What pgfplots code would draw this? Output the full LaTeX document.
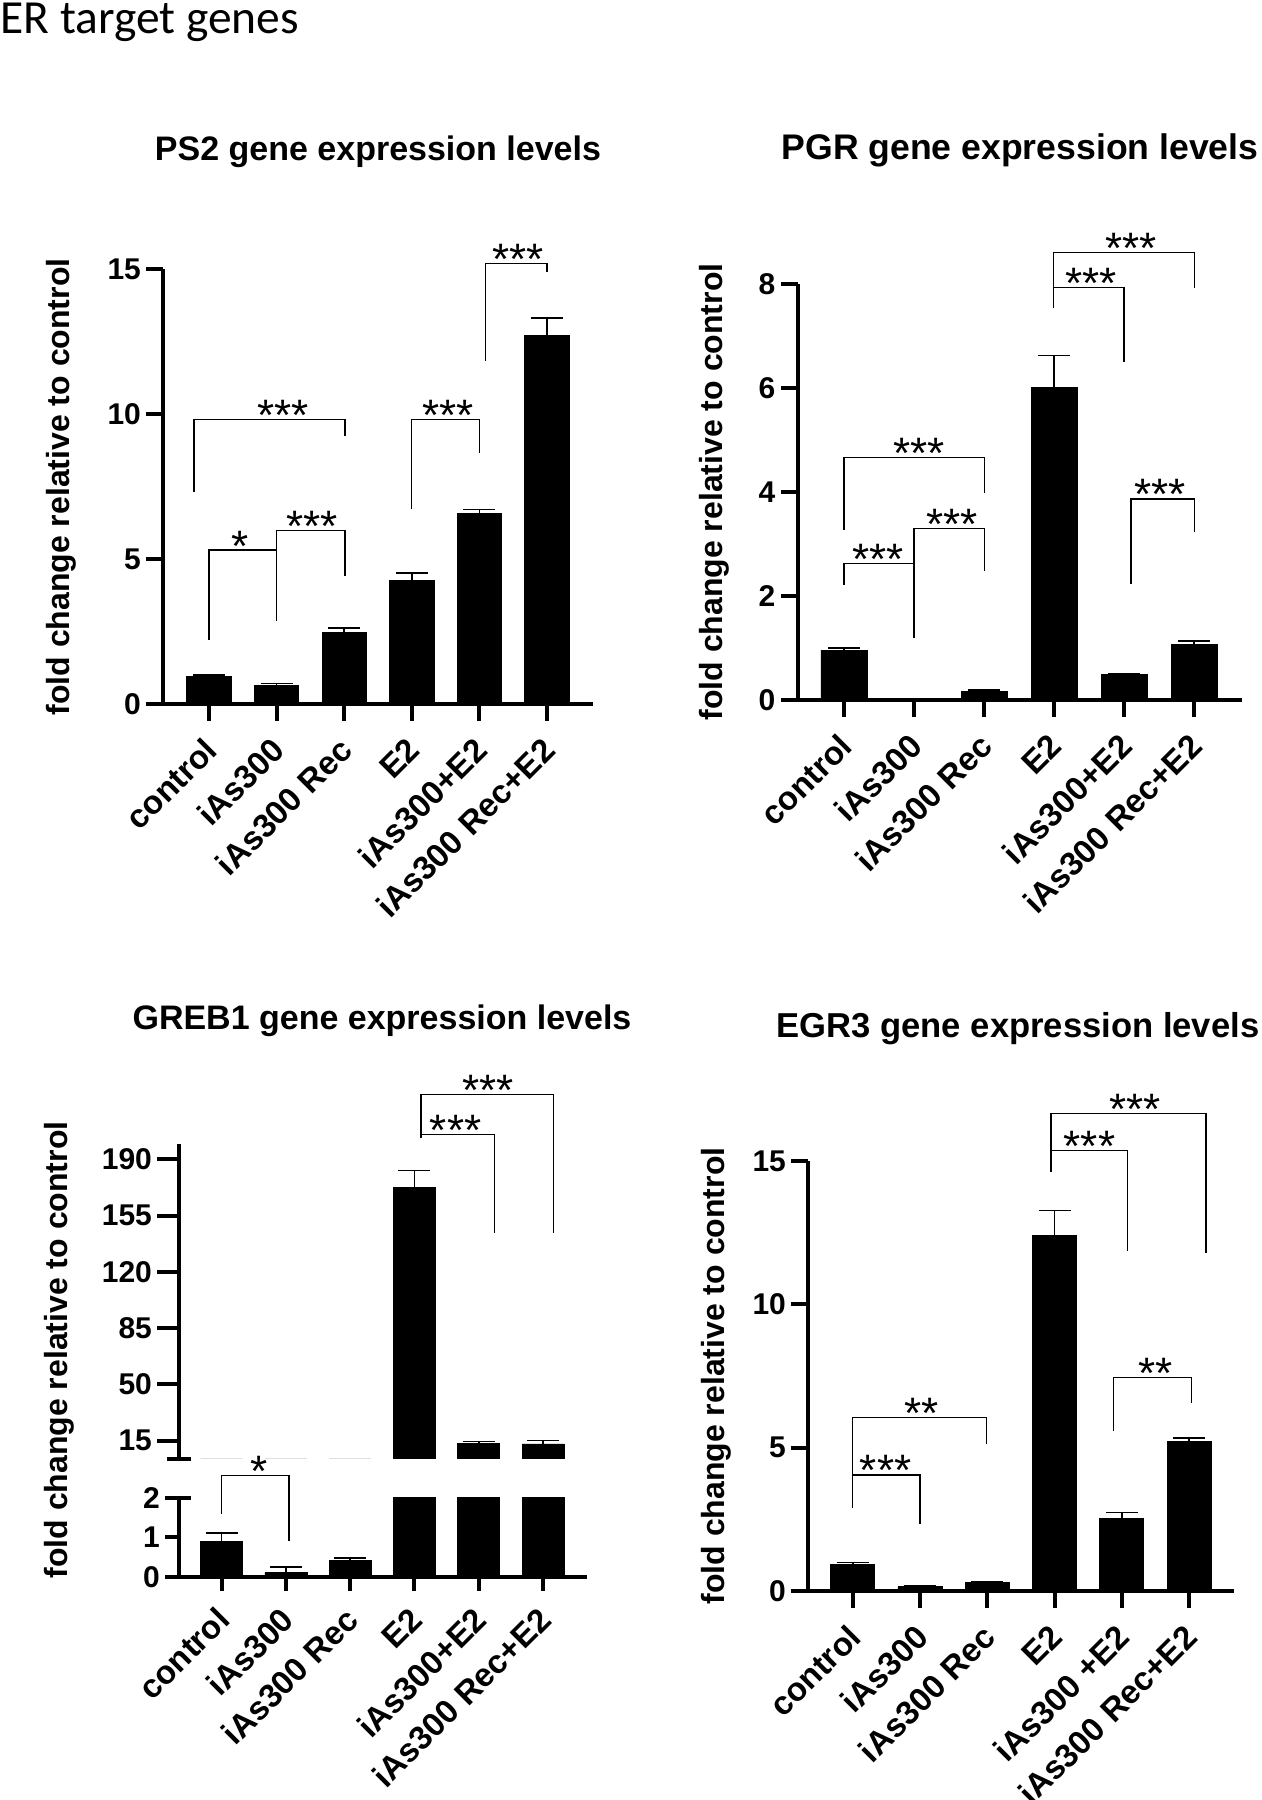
\documentclass[border=0pt]{standalone}
\usepackage{fontspec}
\setmainfont{Liberation Sans}
\newfontfamily\calibri{Carlito}
\usepackage{pgfplots}
\usepackage{pgfplotstable}
\pgfplotsset{compat=1.18}

\pgfplotstableread{
x y e
0 0.94 0.06
1 0.63 0.08
2 2.47 0.14
3 4.25 0.27
4 6.57 0.14
5 12.70 0.60
}\tabPS

\pgfplotstableread{
x y e
0 0.96 0.04
1 0.02 0.01
2 0.17 0.02
3 6.02 0.61
4 0.49 0.02
5 1.07 0.07
}\tabPGR

\pgfplotstableread{
x y e
0 0.90 0.21
1 0.11 0.13
2 0.41 0.06
3 172.6 10.3
4 13.1 1.5
5 12.95 2.05
}\tabGREB

\pgfplotstableread{
x y e
0 0.93 0.06
1 0.15 0.04
2 0.29 0.02
3 12.40 0.88
4 2.53 0.21
5 5.23 0.10
}\tabEGR

\tikzset{
  br/.style={line width=0.65pt,black},
  sig/.style={anchor=base,inner sep=0pt,yshift=-5.5pt,font=\fontsize{22}{22}\selectfont},
}
\pgfplotsset{
  gp/.style={
    scale only axis,
    axis x line*=bottom,
    axis y line*=left,
    axis line style={line width=2pt,-},
    tick style={line width=2pt,black},
    tick align=outside,
    major tick length=8.5pt,
    xtick={0,1,2,3,4,5},
    xticklabel style={xshift=1pt,yshift=-11.5pt,rotate=45,anchor=east,inner sep=0pt,font=\bfseries\fontsize{16.5}{18}\selectfont},
    yticklabel style={inner sep=0pt,xshift=-2.5pt,font=\bfseries\fontsize{15}{15}\selectfont},
    /pgf/number format/assume math mode=true,
    clip=false,
    clip marker paths=true,
  },
  gpbars/.style={ybar, fill=black, draw=black, bar width=#1,
    error bars/y dir=plus, error bars/y explicit,
    error bars/error bar style={line width=0.8pt,black},
    error bars/error mark options={rotate=90,line width=0.8pt,mark size=8pt,black}},
}

\begin{document}
\begin{tikzpicture}
\path[use as bounding box] (0,0) rectangle (631pt,900pt);

\node[anchor=base west,inner sep=0pt,font=\calibri\fontsize{23.75}{24}\selectfont] at (0pt,883pt) {ER target genes};

% ---------------- PS2 ----------------
\node[anchor=base,font=\bfseries\fontsize{17}{17}\selectfont] at (189pt,819.5pt) {PS2 gene expression levels};
\node[rotate=90,font=\bfseries\fontsize{16}{16}\selectfont] at (30.7pt,656.5pt) {fold change relative to control};
\begin{axis}[gp, at={(81.65pt,548pt)}, anchor=south west, width=214.7pt, height=217.5pt,
  xmin=-0.676, xmax=5.676, ymin=0, ymax=15, ytick={0,5,10,15},
  xticklabels={control,iAs300,iAs300 Rec,E2,iAs300+E2,iAs300 Rec+E2}]
\addplot[gpbars=22.15pt] table[x=x,y=y,y error=e]{\tabPS};
\draw[br] (axis cs:0,2.21) -- (axis cs:0,5.31) -- (axis cs:1,5.31) -- (axis cs:1,2.87);
\node[sig] at (axis cs:0.46,5.31) {*};
\draw[br] (axis cs:1,2.87) -- (axis cs:1,5.98) -- (axis cs:2.01,5.98) -- (axis cs:2.01,4.43);
\node[sig] at (axis cs:1.53,5.98) {***};
\draw[br] (axis cs:-0.22,7.30) -- (axis cs:-0.22,9.82) -- (axis cs:2.01,9.82) -- (axis cs:2.01,9.25);
\node[sig] at (axis cs:1.10,9.82) {***};
\draw[br] (axis cs:3,6.71) -- (axis cs:3,9.82) -- (axis cs:4,9.82) -- (axis cs:4,8.64);
\node[sig] at (axis cs:3.54,9.82) {***};
\draw[br] (axis cs:4.09,11.83) -- (axis cs:4.09,15.20) -- (axis cs:5,15.20) -- (axis cs:5,14.89);
\node[sig] at (axis cs:4.57,15.20) {***};
\end{axis}

% ---------------- PGR ----------------
\node[anchor=base,font=\bfseries\fontsize{17.8}{17.8}\selectfont] at (510pt,820pt) {PGR gene expression levels};
\node[rotate=90,font=\bfseries\fontsize{16}{16}\selectfont] at (357pt,654pt) {fold change relative to control};
\begin{axis}[gp, at={(398.85pt,550pt)}, anchor=south west, width=222pt, height=207.85pt,
  xmin=-0.661, xmax=5.681, ymin=0, ymax=8, ytick={0,2,4,6,8},
  xticklabels={control,iAs300,iAs300 Rec,E2,iAs300+E2,iAs300 Rec+E2}]
\addplot[gpbars=23pt] table[x=x,y=y,y error=e]{\tabPGR};
\draw[br] (axis cs:0,2.21) -- (axis cs:0,2.63) -- (axis cs:1,2.63) -- (axis cs:1,1.19);
\node[sig] at (axis cs:0.49,2.63) {***};
\draw[br] (axis cs:1,1.19) -- (axis cs:1,3.30) -- (axis cs:2.01,3.30) -- (axis cs:2.01,2.48);
\node[sig] at (axis cs:1.54,3.30) {***};
\draw[br] (axis cs:0,3.28) -- (axis cs:0,4.66) -- (axis cs:2.01,4.66) -- (axis cs:2.01,3.99);
\node[sig] at (axis cs:1.07,4.66) {***};
\draw[br] (axis cs:2.99,7.54) -- (axis cs:2.99,7.94) -- (axis cs:4,7.94) -- (axis cs:4,6.51);
\node[sig] at (axis cs:3.53,7.94) {***};
\draw[br] (axis cs:2.99,7.94) -- (axis cs:2.99,8.61) -- (axis cs:5.01,8.61) -- (axis cs:5.01,7.93);
\node[sig] at (axis cs:4.10,8.61) {***};
\draw[br] (axis cs:4.10,2.23) -- (axis cs:4.10,3.87) -- (axis cs:5.01,3.87) -- (axis cs:5.01,3.23);
\node[sig] at (axis cs:4.52,3.87) {***};
\end{axis}

% ---------------- GREB1 ----------------
\node[anchor=base,font=\bfseries\fontsize{17}{17}\selectfont] at (191pt,385pt) {GREB1 gene expression levels};
\node[rotate=90,font=\bfseries\fontsize{16}{16}\selectfont] at (29.4pt,225pt) {fold change relative to control};
% upper segment
\begin{axis}[gp, at={(89.65pt,170.5pt)}, anchor=south west, width=203.7pt, height=157.35pt,
  xmin=-0.659, xmax=5.68, ymin=3.6, ymax=199.3, ytick={15,50,85,120,155,190},
  axis x line=none, clip=true, major tick length=11pt]
\addplot[gpbars=21pt] table[x=x,y=y,y error=e]{\tabGREB};
\end{axis}
\begin{axis}[gp, at={(89.65pt,170.5pt)}, anchor=south west, width=203.7pt, height=157.35pt,
  xmin=-0.659, xmax=5.68, ymin=3.6, ymax=199.3, hide axis, clip=false]
\draw[line width=2pt] ([xshift=-6pt]rel axis cs:0,0) -- ([xshift=6pt]rel axis cs:0,0);
\draw[br] (axis cs:3.10,203) -- (axis cs:3.10,205.5) -- (axis cs:4.24,205.5) -- (axis cs:4.24,144.3);
\node[sig] at (axis cs:3.64,205.5) {***};
\draw[br] (axis cs:3.10,203) -- (axis cs:3.10,230.1) -- (axis cs:5.16,230.1) -- (axis cs:5.16,144.3);
\node[sig] at (axis cs:4.14,230.1) {***};
\end{axis}
% lower segment
\begin{axis}[gp, at={(89.65pt,111.65pt)}, anchor=south west, width=203.7pt, height=39.5pt,
  xmin=-0.659, xmax=5.68, ymin=0, ymax=2, ytick={0,1,2}, clip=true,
  major tick length=7pt,
  xticklabels={control,iAs300,iAs300 Rec,E2,iAs300+E2,iAs300 Rec+E2}]
\addplot[gpbars=21pt] table[x=x,y=y,y error=e]{\tabGREB};
\end{axis}
\begin{axis}[gp, at={(89.65pt,111.65pt)}, anchor=south west, width=203.7pt, height=39.5pt,
  xmin=-0.659, xmax=5.68, ymin=0, ymax=2, hide axis, clip=false]
\draw[line width=2pt] ([xshift=-6pt]rel axis cs:0,1) -- ([xshift=6pt]rel axis cs:0,1);
\draw[br] (axis cs:0,1.59) -- (axis cs:0,2.56) -- (axis cs:1.05,2.56) -- (axis cs:1.05,0.90);
\node[sig] at (axis cs:0.58,2.56) {*};
\end{axis}

% ---------------- EGR3 ----------------
\node[anchor=base,font=\bfseries\fontsize{17.3}{17.3}\selectfont] at (509pt,381pt) {EGR3 gene expression levels};
\node[rotate=90,font=\bfseries\fontsize{16}{16}\selectfont] at (358.3pt,212pt) {fold change relative to control};
\begin{axis}[gp, at={(404.15pt,104.5pt)}, anchor=south west, width=213pt, height=215pt,
  xmin=-0.66, xmax=5.673, ymin=0, ymax=15, ytick={0,5,10,15},
  xticklabels={control,iAs300,iAs300 Rec,E2,iAs300 +E2,iAs300 Rec+E2}]
\addplot[gpbars=22pt] table[x=x,y=y,y error=e]{\tabEGR};
\draw[br] (axis cs:0,2.91) -- (axis cs:0,4.05) -- (axis cs:1,4.05) -- (axis cs:1,2.33);
\node[sig] at (axis cs:0.49,4.05) {***};
\draw[br] (axis cs:0,4.05) -- (axis cs:0,6.05) -- (axis cs:1.99,6.05) -- (axis cs:1.99,5.12);
\node[sig] at (axis cs:1.03,6.05) {**};
\draw[br] (axis cs:2.95,14.60) -- (axis cs:2.95,15.36) -- (axis cs:4.09,15.36) -- (axis cs:4.09,11.86);
\node[sig] at (axis cs:3.52,15.36) {***};
\draw[br] (axis cs:2.95,15.36) -- (axis cs:2.95,16.66) -- (axis cs:5.25,16.66) -- (axis cs:5.25,11.78);
\node[sig] at (axis cs:4.20,16.66) {***};
\draw[br] (axis cs:3.88,5.59) -- (axis cs:3.88,7.45) -- (axis cs:5.04,7.45) -- (axis cs:5.04,6.55);
\node[sig] at (axis cs:4.50,7.45) {**};
\end{axis}
\end{tikzpicture}
\end{document}
